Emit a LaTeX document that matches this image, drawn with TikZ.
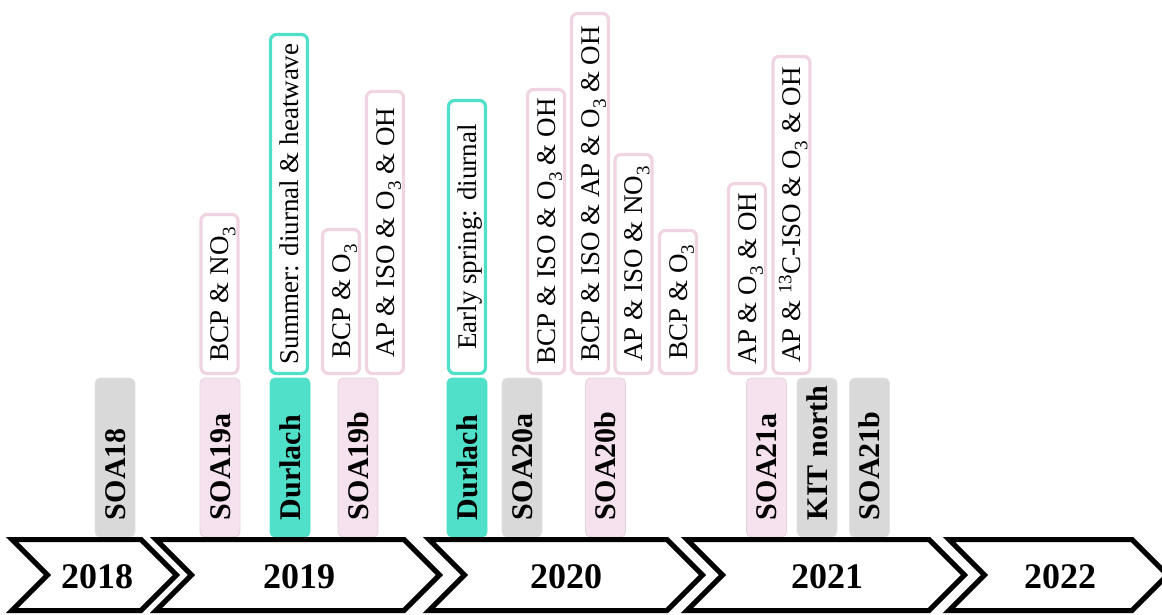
\documentclass[tikz,border=0pt]{standalone}
\usepackage{fontspec}
\setmainfont{Liberation Serif}
\definecolor{tq}{HTML}{50E0C9}
\definecolor{pinkfill}{HTML}{F6E2EE}
\definecolor{pinkline}{HTML}{F0D4E2}
\definecolor{grayfill}{HTML}{D9D9D9}
\tikzset{
  tag/.style={rotate=90, rounded corners=5pt, line width=0.8pt, minimum height=40pt,
    inner xsep=17pt, inner ysep=0pt, text height=20pt, text depth=0pt,
    font=\bfseries\fontsize{30}{30}\selectfont},
  graytag/.style={tag, fill=grayfill, draw=grayfill!70!white},
  pinktag/.style={tag, fill=pinkfill, draw=pinkfill!85!gray},
  tqtag/.style={tag, fill=tq, draw=tq},
  upbox/.style={rotate=90, rounded corners=6pt, fill=white, draw=pinkline, line width=3.2pt,
    minimum height=37pt, inner sep=0pt, text height=18pt, text depth=0pt,
    font=\fontsize{27}{27}\selectfont, minimum width=#1},
  tqbox/.style={upbox=#1, draw=tq},
  chev/.style={draw=black, line width=5pt, fill=white, line join=miter},
  year/.style={font=\bfseries\fontsize{36}{36}\selectfont, inner sep=0pt}
}
\newcommand{\tagtext}[1]{\makebox[125pt][l]{#1}}
\newcommand{\sub}[1]{\raisebox{-0.25em}{\fontsize{19}{19}\selectfont #1}}
\begin{document}
\begin{tikzpicture}[x=1pt,y=-1pt]
\useasboundingbox (0,0) rectangle (1162,614);
% upper boxes
\node[upbox=159] (u1) at (219.5,294) {BCP \& NO\sub{3}};
\node[tqbox=339] (u2) at (289,204) {Summer: diurnal \& heatwave};
\node[upbox=144] (u3) at (341,301.5) {BCP \& O\sub{3}};
\node[upbox=282] (u4) at (385,232.5) {AP \& ISO \& O\sub{3} \& OH};
\node[tqbox=273] (u5) at (467,237) {Early spring: diurnal};
\node[upbox=284] (u6) at (546,231.5) {BCP \& ISO \& O\sub{3} \& OH};
\node[upbox=360] (u7) at (590,193.5) {BCP \& ISO \& AP \& O\sub{3} \& OH};
\node[upbox=219] (u8) at (633.5,264) {AP \& ISO \& NO\sub{3}};
\node[upbox=143] (u9) at (678,302) {BCP \& O\sub{3}};
\node[upbox=190] (u10) at (747,278.5) {AP \& O\sub{3} \& OH};
\node[upbox=317] (u11) at (791.5,215) {AP \& \textsuperscript{13}C-ISO \& O\sub{3} \& OH};
% lower tags
\node[graytag] (t1) at (115,457.5) {\tagtext{SOA18}};
\node[pinktag] (t2) at (220,457.5) {\tagtext{SOA19a}};
\node[tqtag] (t3) at (290,457.5) {\tagtext{Durlach}};
\node[pinktag] (t4) at (358,457.5) {\tagtext{SOA19b}};
\node[tqtag] (t5) at (467,457.5) {\tagtext{Durlach}};
\node[graytag] (t6) at (522,457.5) {\tagtext{SOA20a}};
\node[pinktag] (t7) at (605.5,457.5) {\tagtext{SOA20b}};
\node[pinktag] (t8) at (766.5,457.5) {\tagtext{SOA21a}};
\node[graytag] (t9) at (817,457.5) {\tagtext{KIT north}};
\node[graytag] (t10) at (869.5,457.5) {\tagtext{SOA21b}};
% chevrons
\foreach \L/\R in {12/141, 156/404, 429/667, 687/929, 949/1132}{
  \draw[chev] (\L,539.5) -- (\R,539.5) -- (\R+35.5,575) -- (\R,610.5) -- (\L,610.5) -- (\L+35.5,575) -- cycle;
}
\node[year] (y18) at (97,577) {2018};
\node[year] (y19) at (299,577) {2019};
\node[year] (y20) at (566,577) {2020};
\node[year] (y21) at (827,577) {2021};
\node[year] (y22) at (1060,577) {2022};
\end{tikzpicture}
\end{document}
